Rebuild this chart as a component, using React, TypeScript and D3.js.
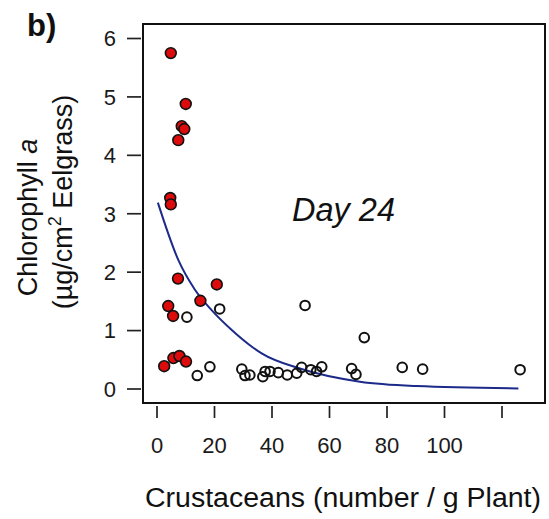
import React from "react";
import * as d3 from "d3";

// Crustacean density (number / g plant) vs. chlorophyll a (µg/cm² eelgrass), day 24
const redX = [4.8, 10, 8.6, 9.5, 7.4, 4.6, 4.8, 7.3, 20.8, 15.1, 3.9, 5.6, 2.5, 5.7, 7.8, 10.1];
const redY = [5.75, 4.88, 4.5, 4.45, 4.26, 3.27, 3.16, 1.89, 1.79, 1.51, 1.42, 1.25, 0.39, 0.53, 0.565, 0.47];

const openX = [10.4, 21.8, 14, 18.4, 29.5, 30.6, 32.3, 36.8, 37.6, 39.3, 42.2, 45.3, 48.6, 50.3, 51.5, 53.5, 55.5, 57.3, 67.7, 69.2, 72.1, 85.3, 92.4, 126.3];
const openY = [1.23, 1.37, 0.23, 0.38, 0.34, 0.23, 0.24, 0.21, 0.3, 0.3, 0.28, 0.24, 0.27, 0.37, 1.43, 0.33, 0.3, 0.38, 0.35, 0.25, 0.88, 0.37, 0.34, 0.33];

// Fitted decay curve, sampled along its length
const fitX = [0.3, 7.4, 13.2, 19, 26, 32.3, 36.4, 49.7, 70.6, 90.3, 125.7];
const fitY = [3.19, 2.21, 1.7, 1.35, 1.01, 0.75, 0.61, 0.35, 0.125, 0.05, 0.01];

const xTicks = [0, 20, 40, 60, 80, 100, 120];
const xTickLabels = ["0", "20", "40", "60", "80", "100", ""];
const yTicks = [0, 1, 2, 3, 4, 5, 6];
const yTickLabels = ["0", "1", "2", "3", "4", "5", "6"];

const FONT = "'Liberation Sans', Arial, Helvetica, sans-serif";

export default function App() {
  const W = 549;
  const H = 519;
  const frame = { left: 143, top: 24, right: 545, bottom: 403 };

  const x = d3.scaleLinear().domain([0, 120]).range([157, 502]);
  const y = d3.scaleLinear().domain([0, 6]).range([389, 38.5]);

  const fitPts: [number, number][] = fitX.map((v, i) => [v, fitY[i]]);
  const line = d3
    .line<[number, number]>()
    .x((d) => x(d[0]))
    .y((d) => y(d[1]))
    .curve(d3.curveMonotoneX);

  return (
    <svg
      width={W}
      height={H}
      style={{ position: "absolute", left: 0, top: 0, background: "#fff" }}
      fontFamily={FONT}
    >
      <rect x={0} y={0} width={W} height={H} fill="#fff" />

      {/* panel label */}
      <text x={27} y={36} fontSize={31} fontWeight="bold" fill="#111">
        b)
      </text>

      {/* plot frame */}
      <rect
        x={frame.left}
        y={frame.top}
        width={frame.right - frame.left}
        height={frame.bottom - frame.top}
        fill="none"
        stroke="#111"
        strokeWidth={2}
      />

      {/* y axis */}
      {yTicks.map((t, i) => (
        <g key={"yt" + t}>
          <line x1={127} x2={141} y1={y(t)} y2={y(t)} stroke="#222" strokeWidth={1.7} />
          <text x={116} y={y(t) + 7.8} fontSize={22} textAnchor="end" fill="#1a1a1a">
            {yTickLabels[i]}
          </text>
        </g>
      ))}

      {/* x axis */}
      {xTicks.map((t, i) => (
        <g key={"xt" + t}>
          <line x1={x(t)} x2={x(t)} y1={406} y2={418} stroke="#222" strokeWidth={1.7} />
          <text x={x(t)} y={452.5} fontSize={22} textAnchor="middle" fill="#1a1a1a">
            {xTickLabels[i]}
          </text>
        </g>
      ))}

      {/* axis titles */}
      <text x={145} y={507} fontSize={27} fill="#111" textLength={396} lengthAdjust="spacingAndGlyphs">
        Crustaceans (number / g Plant)
      </text>
      <text
        transform={`translate(37,217.5) rotate(-90)`}
        fontSize={27}
        textAnchor="middle"
        fill="#111"
      >
        Chlorophyll <tspan fontStyle="italic">a</tspan>
      </text>
      <text
        transform={`translate(72,202) rotate(-90)`}
        fontSize={27}
        textAnchor="middle"
        fill="#111"
      >
        (µg/cm
        <tspan fontSize={18} dy={-11}>
          2
        </tspan>
        <tspan dy={11}> Eelgrass)</tspan>
      </text>

      {/* fitted curve */}
      <path d={line(fitPts) ?? ""} fill="none" stroke="#1c2a8a" strokeWidth={2} />

      {/* open circles */}
      {openX.map((v, i) => (
        <circle
          key={"o" + i}
          cx={x(v)}
          cy={y(openY[i])}
          r={4.8}
          fill="none"
          stroke="#111"
          strokeWidth={2}
        />
      ))}

      {/* filled red circles */}
      {redX.map((v, i) => (
        <circle
          key={"r" + i}
          cx={x(v)}
          cy={y(redY[i])}
          r={5.4}
          fill="#dd0b0b"
          stroke="#111"
          strokeWidth={1.6}
        />
      ))}

      {/* annotation */}
      <text x={292} y={221} fontSize={32.5} fontStyle="italic" fill="#111">
        Day 24
      </text>
    </svg>
  );
}
